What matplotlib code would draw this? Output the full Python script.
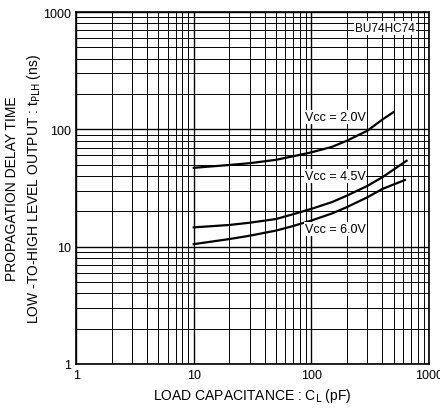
import matplotlib.pyplot as plt
from matplotlib.ticker import LogLocator, NullFormatter

plt.rcParams['font.family'] = ['Liberation Sans', 'DejaVu Sans']

# load capacitance (pF) and tPLH (ns)
cl_20 = [10, 20, 30, 50, 70, 100, 150, 200, 300, 400, 497]
tplh_20 = [47, 49.7, 51.5, 55, 59, 63.7, 71, 80, 97.5, 121, 140]

cl_45 = [10, 20, 30, 50, 70, 100, 150, 200, 300, 400, 645]
tplh_45 = [14.6, 15.3, 16.0, 17.2, 18.9, 21, 24, 27.2, 33, 39, 54]

cl_60 = [10, 20, 30, 50, 70, 100, 150, 200, 300, 400, 624]
tplh_60 = [10.5, 11.6, 12.4, 13.7, 15.0, 16.7, 19.2, 21.7, 26.4, 31, 37]

curve_labels = ["Vcc = 2.0V", "Vcc = 4.5V", "Vcc = 6.0V"]
label_pos = [(88, 127), (88, 40), (88, 14.2)]

fig = plt.figure(figsize=(4.4, 4.1), dpi=100)
ax = fig.add_axes([0.173, 0.110, 0.802, 0.858])

ax.set_xscale('log')
ax.set_yscale('log')
ax.set_xlim(1, 1000)
ax.set_ylim(1, 1000)

# graph-paper grid
ax.xaxis.set_minor_locator(LogLocator(base=10, subs=range(2, 10)))
ax.yaxis.set_minor_locator(LogLocator(base=10, subs=range(2, 10)))
ax.xaxis.set_minor_formatter(NullFormatter())
ax.yaxis.set_minor_formatter(NullFormatter())
ax.grid(True, which='major', color='black', lw=1.0)
ax.grid(True, which='minor', color='black', lw=0.7)
ax.set_axisbelow(True)

for x, y in [(cl_20, tplh_20), (cl_45, tplh_45), (cl_60, tplh_60)]:
    ax.plot(x, y, color='black', lw=1.6, zorder=3)

for txt, (tx, ty) in zip(curve_labels, label_pos):
    ax.text(tx, ty, txt, fontsize=9, va='center', ha='left', zorder=4,
            bbox=dict(facecolor='white', edgecolor='none', pad=0.5))

ax.text(0.96, 0.955, "BU74HC74", transform=ax.transAxes, fontsize=8.5,
        ha='right', va='center', zorder=4,
        bbox=dict(facecolor='white', edgecolor='none', pad=0.8))

ax.set_xticks([1, 10, 100, 1000])
ax.set_xticklabels(["1", "10", "100", "1000"])
ax.set_yticks([1, 10, 100, 1000])
ax.set_yticklabels(["1", "10", "100", "1000"])
ax.tick_params(which='both', length=0, labelsize=9, pad=4)

for s in ax.spines.values():
    s.set_linewidth(1.2)

ax.set_xlabel("LOAD CAPACITANCE : C$_\\mathrm{L}$ (pF)", fontsize=10)
ax.set_ylabel("PROPAGATION DELAY TIME\nLOW -TO-HIGH LEVEL OUTPUT : t$_\\mathrm{PLH}$ (ns)",
              fontsize=10, linespacing=1.4)
ax.xaxis.set_label_coords(0.5, -0.062)
ax.yaxis.set_label_coords(-0.095, 0.5)

fig.savefig("out.png", dpi=100)
